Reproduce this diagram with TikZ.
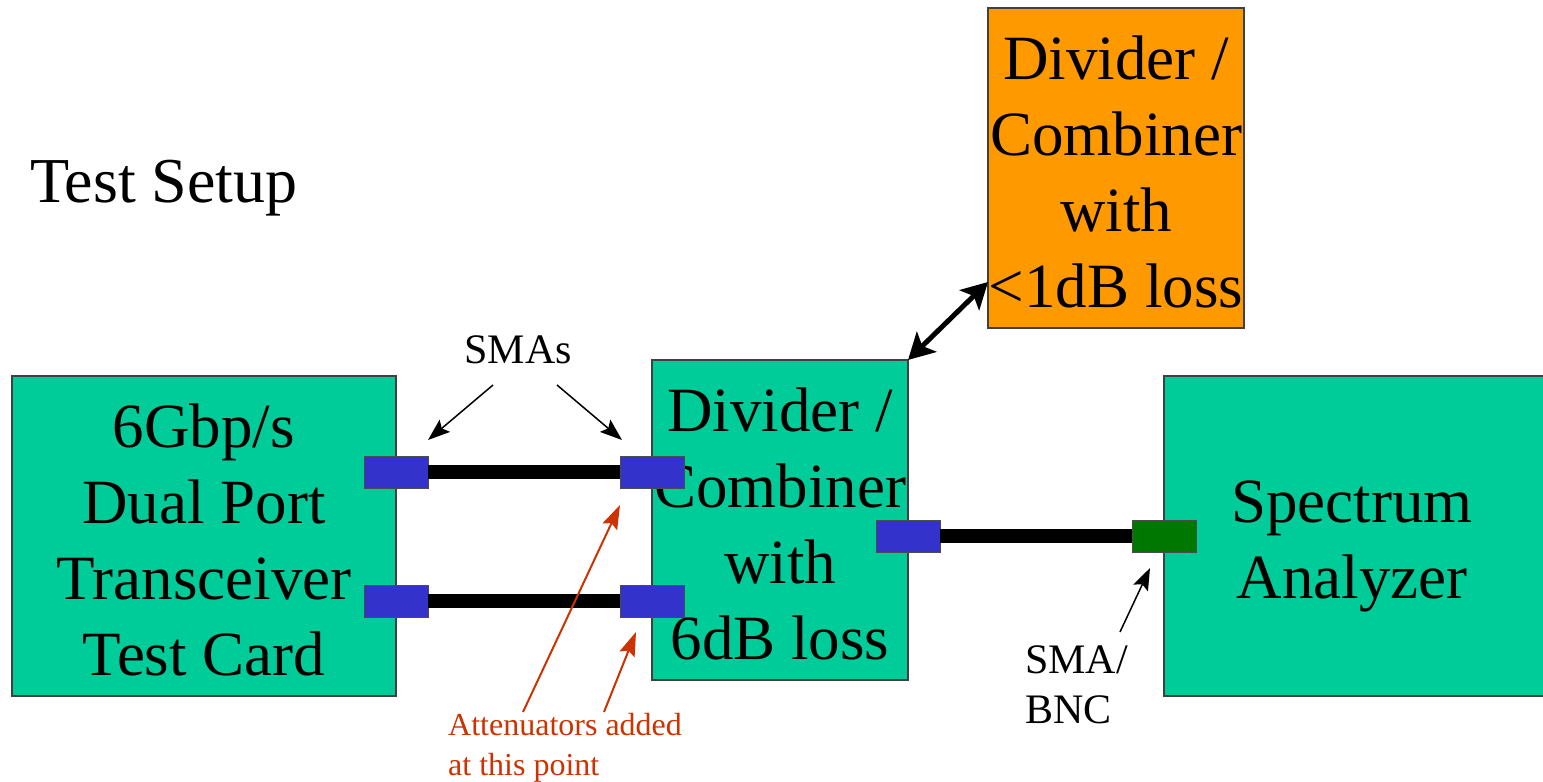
\documentclass[tikz,border=0pt]{standalone}
\usepackage{fontspec}
\setmainfont{Liberation Serif}
\usetikzlibrary{arrows.meta}
\definecolor{boxgreen}{HTML}{00CC99}
\definecolor{boxorange}{HTML}{FF9900}
\definecolor{smablue}{HTML}{3333CC}
\definecolor{bncgreen}{HTML}{007700}
\definecolor{attred}{HTML}{CC3300}
\newcommand\bigtxt{\fontsize{63}{76}\selectfont}
\newcommand\midtxt{\fontsize{42}{50}\selectfont}
\newcommand\smalltxt{\fontsize{32}{40}\selectfont}
\begin{document}
\begin{tikzpicture}[x=1pt,y=-1pt,
  unitbox/.style={draw=black!75, line width=1.5pt, inner sep=0pt, outer sep=0pt, anchor=north west},
  greenbox/.style={unitbox, fill=boxgreen},
  orangebox/.style={unitbox, fill=boxorange},
  conn/.style={draw=black!70, line width=1pt, inner sep=0pt, outer sep=0pt, anchor=north west, minimum width=64, minimum height=32},
  smaconn/.style={conn, fill=smablue},
  bncconn/.style={conn, fill=bncgreen},
  cable/.style={line width=14pt},
  boxtext/.style={align=center, inner sep=0pt, font=\bigtxt},
  pointer/.style={line width=1.5pt, -{Stealth[length=22pt,width=16pt,inset=4pt]}},
  redpointer/.style={draw=attred, line width=2pt, -{Stealth[length=24pt,width=16pt,inset=4pt]}},
  dblarrow/.style={line width=5pt, {Stealth[length=26pt,width=28pt,inset=6pt]}-{Stealth[length=26pt,width=28pt,inset=6pt]}}
]
\clip (0,0) rectangle (1543,782);
\fill[white] (0,0) rectangle (1543,782);

% title
\node[anchor=base west, inner sep=0pt, font=\fontsize{64}{72}\selectfont] (title) at (30,202) {Test Setup};

% boxes
\node[greenbox, minimum width=384, minimum height=320] (card) at (12,376) {};
\node[greenbox, minimum width=256, minimum height=320] (div) at (652,360) {};
\node[orangebox, minimum width=256, minimum height=320] (odiv) at (988,8) {};
\node[greenbox, minimum width=400, minimum height=320] (spec) at (1164,376) {};

% box texts
\node[boxtext] (cardtxt) at ([yshift=-4]card.center) {6Gbp/s\\Dual Port\\Transceiver\\Test Card};
\node[boxtext] (divtxt) at ([yshift=-4]div.center) {Divider /\\Combiner\\with\\6dB loss};
\node[boxtext] (odivtxt) at ([yshift=-4]odiv.center) {Divider /\\Combiner\\with\\<1dB loss};
\node[boxtext] (spectxt) at (1352,546) {Spectrum\\Analyzer};

% connectors
\node[smaconn] (c1) at (364,456) {};
\node[smaconn] (c2) at (620,456) {};
\node[smaconn] (c3) at (364,585) {};
\node[smaconn] (c4) at (620,585) {};
\node[smaconn] (c5) at (876,520) {};
\node[bncconn] (c6) at (1132,520) {};

% cables
\draw[cable] (c1.east) -- (c2.west);
\draw[cable] (c3.east) -- (c4.west);
\draw[cable] (c5.east) -- (c6.west);

% double arrow
\coordinate (oport) at (988,282);
\draw[dblarrow] (div.north east) -- (oport);

% SMAs label
\node[inner sep=0pt, font=\midtxt] (smas) at (518,350) {SMAs};
\coordinate (smaL) at (493,385);
\coordinate (smaR) at (557,385);
\coordinate (tipL) at (428,440);
\coordinate (tipR) at (622,440);
\draw[pointer] (smaL) -- (tipL);
\draw[pointer] (smaR) -- (tipR);

% SMA/BNC label
\node[inner sep=0pt, align=left, font=\midtxt, anchor=north west] (bnc) at (1025,645) {SMA/\\BNC};
\coordinate (bncfrom) at (1120,632);
\coordinate (bnctip) at (1150,568);
\draw[pointer] (bncfrom) -- (bnctip);

% attenuators
\node[inner sep=0pt, align=left, font=\smalltxt, text=attred, anchor=north west] (att) at (448,713) {Attenuators added\\at this point};
\coordinate (attA) at (523,712);
\coordinate (attB) at (604,712);
\coordinate (tipA) at (620,505);
\coordinate (tipB) at (636,632);
\draw[redpointer] (attA) -- (tipA);
\draw[redpointer] (attB) -- (tipB);
\end{tikzpicture}
\end{document}
